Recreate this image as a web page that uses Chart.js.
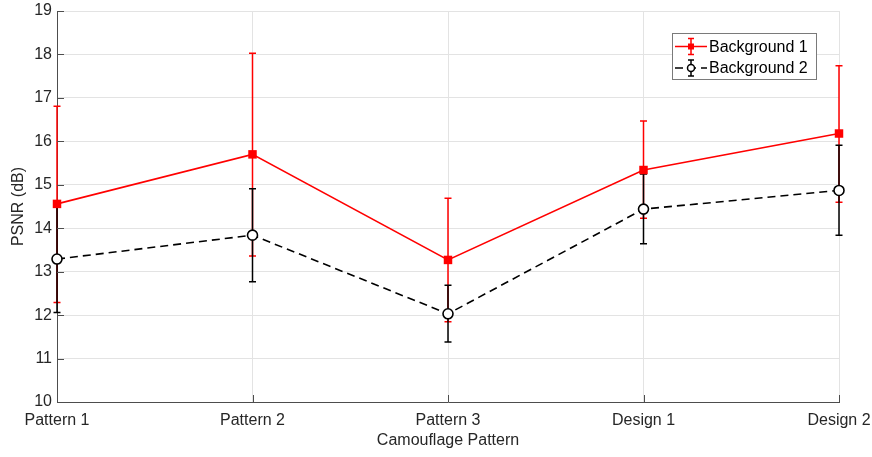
<!DOCTYPE html>
<html lang="en">

<head>
    <meta charset="UTF-8">
    <title>PSNR by Camouflage Pattern</title>
    <script src="https://cdn.jsdelivr.net/npm/chart.js"></script>
    <style>
        body { margin: 0; background: #fff; }
        #wrap { width: 872px; height: 457px; }
    </style>
</head>

<body>
    <div id="wrap"><canvas id="myChart" width="872" height="457"></canvas></div>

    <script>
        // data
        const categories = ['Pattern 1', 'Pattern 2', 'Pattern 3', 'Design 1', 'Design 2'];

        const bg1Mean = [14.56, 15.70, 13.27, 15.34, 16.18];
        const bg1Upper = [16.81, 18.03, 14.69, 16.47, 17.74];
        const bg1Lower = [12.29, 13.36, 11.85, 14.23, 14.60];

        const bg2Mean = [13.29, 13.84, 12.03, 14.44, 14.87];
        const bg2Upper = [14.50, 14.91, 12.69, 15.25, 15.91];
        const bg2Lower = [12.06, 12.77, 11.38, 13.64, 13.84];

        const yTicks = [10, 11, 12, 13, 14, 15, 16, 17, 18, 19];

        const FONT = "'Liberation Sans', Arial, Helvetica, sans-serif";
        const TEXT = '#262626';
        const AXIS = '#4d4d4d';
        const GRID = '#e3e3e3';

        // error bars, inner tick marks and the MATLAB-like legend
        const extras = {
            id: 'extras',
            beforeDatasetsDraw(chart) {
                const ctx = chart.ctx;
                const xs = chart.scales.x, ys = chart.scales.y;
                chart.data.datasets.forEach((ds) => {
                    ctx.save();
                    ctx.strokeStyle = ds.borderColor;
                    ctx.lineWidth = 1.5;
                    ds.data.forEach((v, i) => {
                        const x = xs.getPixelForValue(i);
                        const yu = ys.getPixelForValue(ds.upper[i]);
                        const yl = ys.getPixelForValue(ds.lower[i]);
                        ctx.beginPath();
                        ctx.moveTo(x, yu); ctx.lineTo(x, yl);
                        ctx.moveTo(x - 3.5, yu); ctx.lineTo(x + 3.5, yu);
                        ctx.moveTo(x - 3.5, yl); ctx.lineTo(x + 3.5, yl);
                        ctx.stroke();
                    });
                    ctx.restore();
                });
            },
            afterDraw(chart) {
                const ctx = chart.ctx;
                const area = chart.chartArea;
                const xs = chart.scales.x, ys = chart.scales.y;

                // ticks pointing inward
                ctx.save();
                ctx.strokeStyle = AXIS;
                ctx.lineWidth = 1;
                categories.forEach((c, i) => {
                    const x = Math.round(xs.getPixelForValue(i)) + 0.5;
                    ctx.beginPath();
                    ctx.moveTo(x, area.bottom); ctx.lineTo(x, area.bottom - 7);
                    ctx.stroke();
                });
                yTicks.forEach((t) => {
                    const y = Math.round(ys.getPixelForValue(t)) + 0.5;
                    ctx.beginPath();
                    ctx.moveTo(area.left, y); ctx.lineTo(area.left + 7, y);
                    ctx.stroke();
                });
                ctx.restore();

                // legend box
                const bx = 672, by = 33.5, bw = 144, bh = 46;
                ctx.save();
                ctx.fillStyle = '#fff';
                ctx.fillRect(bx, by, bw, bh);
                ctx.strokeStyle = '#7a7a7a';
                ctx.lineWidth = 1;
                ctx.strokeRect(bx + 0.5, by, bw, bh);
                ctx.font = '16px ' + FONT;
                ctx.textBaseline = 'middle';
                chart.data.datasets.forEach((ds, k) => {
                    const cy = by + 13 + k * 21.5;
                    const x0 = bx + 3, x1 = bx + 35, mx = bx + 19;
                    ctx.strokeStyle = ds.borderColor;
                    ctx.lineWidth = 1.5;
                    ctx.setLineDash(ds.borderDash || []);
                    ctx.beginPath();
                    ctx.moveTo(x0, cy); ctx.lineTo(x1, cy);
                    ctx.stroke();
                    ctx.setLineDash([]);
                    ctx.beginPath();
                    ctx.moveTo(mx, cy - 8); ctx.lineTo(mx, cy + 8);
                    ctx.moveTo(mx - 3, cy - 8); ctx.lineTo(mx + 3, cy - 8);
                    ctx.moveTo(mx - 3, cy + 8); ctx.lineTo(mx + 3, cy + 8);
                    ctx.stroke();
                    if (ds.pointStyle === 'rect') {
                        ctx.fillStyle = ds.borderColor;
                        ctx.fillRect(mx - 3, cy - 3, 6, 6);
                    } else {
                        ctx.fillStyle = '#fff';
                        ctx.beginPath();
                        ctx.arc(mx, cy, 3.5, 0, Math.PI * 2);
                        ctx.fill();
                        ctx.stroke();
                    }
                    ctx.fillStyle = '#000';
                    ctx.fillText(ds.label, bx + 37, cy + 1);
                });
                ctx.restore();
            }
        };

        const ctx = document.getElementById('myChart').getContext('2d');
        const chart = new Chart(ctx, {
            type: 'line',
            data: {
                labels: categories,
                datasets: [{
                    label: 'Background 1',
                    data: bg1Mean,
                    upper: bg1Upper,
                    lower: bg1Lower,
                    borderColor: '#ff0000',
                    backgroundColor: '#ff0000',
                    borderWidth: 1.6,
                    pointStyle: 'rect',
                    pointRadius: 6,
                    pointBorderWidth: 0,
                    fill: false
                },
                {
                    label: 'Background 2',
                    data: bg2Mean,
                    upper: bg2Upper,
                    lower: bg2Lower,
                    borderColor: '#000000',
                    backgroundColor: '#ffffff',
                    borderWidth: 1.6,
                    borderDash: [8, 5],
                    pointStyle: 'circle',
                    pointRadius: 5,
                    pointBorderWidth: 1.6,
                    fill: false
                }
                ]
            },
            options: {
                responsive: false,
                animation: false,
                layout: { padding: { top: 11, right: 33, bottom: 0, left: 0 } },
                plugins: {
                    legend: { display: false },
                    tooltip: { enabled: false }
                },
                scales: {
                    x: {
                        offset: false,
                        grid: { color: GRID, drawTicks: false },
                        border: { color: AXIS, width: 1 },
                        ticks: { color: TEXT, font: { family: FONT, size: 16 }, padding: 9, maxRotation: 0 },
                        title: {
                            display: true, text: 'Camouflage Pattern', color: TEXT,
                            font: { family: FONT, size: 16 }, padding: { top: 0, bottom: 7 }
                        },
                        afterFit(scale) {
                            scale.height = 55;
                            scale.paddingLeft = 0;
                            scale.paddingRight = 0;
                        }
                    },
                    y: {
                        min: 10,
                        max: 19,
                        grid: { color: GRID, drawTicks: false },
                        border: { color: AXIS, width: 1 },
                        afterBuildTicks(scale) { scale.ticks = yTicks.map(v => ({ value: v })); },
                        ticks: { color: TEXT, font: { family: FONT, size: 16 }, padding: 5 },
                        title: {
                            display: true, text: 'PSNR (dB)', color: TEXT,
                            font: { family: FONT, size: 16 }, padding: { top: 9, bottom: 0 }
                        },
                        afterFit(scale) {
                            scale.width = 57;
                            scale.paddingTop = 0;
                            scale.paddingBottom = 0;
                        }
                    }
                }
            },
            plugins: [extras]
        });
    </script>
</body>

</html>
